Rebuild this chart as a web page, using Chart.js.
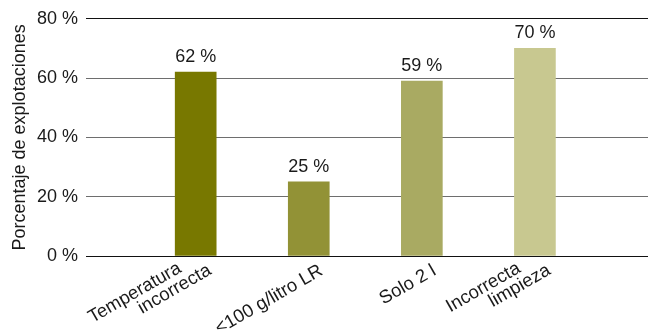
<!DOCTYPE html>
<html>
<head>
<meta charset="utf-8">
<script src="https://cdn.jsdelivr.net/npm/chart.js@4"></script>
<style>
    html, body { margin: 0; padding: 0; background: #fff; }
    #wrap { width: 648px; height: 336px; }
</style>
</head>
<body>
<div id="wrap"><canvas id="chart"></canvas></div>
<script>
// Chart data
var categories = [
    ["Temperatura", "incorrecta"],
    ["<100 g/litro LR"],
    ["Solo 2 l"],
    ["Incorrecta", "limpieza"]
];
var values = [62, 25, 59, 70];
var barColors = ["#787800", "#929236", "#a9aa62", "#c8c890"];
var yTicks = [0, 20, 40, 60, 80];

var FONT = "'Liberation Sans', Arial, sans-serif";
var TEXT = "#1a1a1a";

// Writes "NN %" above every bar
var valueLabels = {
    id: "valueLabels",
    afterDatasetsDraw: function (chart) {
        var ctx = chart.ctx;
        var meta = chart.getDatasetMeta(0);
        ctx.save();
        ctx.font = "18px " + FONT;
        ctx.fillStyle = TEXT;
        ctx.textAlign = "center";
        ctx.textBaseline = "bottom";
        meta.data.forEach(function (bar, i) {
            ctx.fillText(values[i] + " %", bar.x, bar.y - 6);
        });
        ctx.restore();
    }
};

// Slanted category labels; wrapped lines step down and to the right
var categoryLabels = {
    id: "categoryLabels",
    afterDraw: function (chart) {
        var ctx = chart.ctx;
        var xs = chart.scales.x;
        var angle = -30 * Math.PI / 180;
        ctx.save();
        ctx.font = "18.5px " + FONT;
        ctx.fillStyle = TEXT;
        ctx.textAlign = "right";
        ctx.textBaseline = "top";
        categories.forEach(function (lines, i) {
            var tx = xs.getPixelForValue(i + 1);
            var n = lines.length;
            lines.forEach(function (line, j) {
                var back = n - 1 - j;   // lines above the last one
                var dx = (n > 1 ? 9.5 : 8) - back * 30;
                var dy = (n > 1 ? 5 : 5.5) - back * 2;
                ctx.save();
                ctx.translate(tx + dx, xs.top + dy);
                ctx.rotate(angle);
                ctx.fillText(line, 0, 0);
                ctx.restore();
            });
        });
        ctx.restore();
    }
};

var ctx = document.getElementById("chart").getContext("2d");

var myChart = new Chart(ctx, {
    type: "bar",
    data: {
        datasets: [
            {
                data: values.map(function (v, i) { return { x: i + 1, y: v }; }),
                backgroundColor: barColors,
                barThickness: 41,
                borderWidth: 0
            }
        ]
    },
    options: {
        responsive: true,
        maintainAspectRatio: false,
        animation: false,
        layout: { padding: { top: 16, right: 0, left: 0, bottom: 0 } },
        plugins: {
            legend: { display: false },
            tooltip: { enabled: false }
        },
        scales: {
            x: {
                type: "linear",
                offset: false,
                min: 0.03,
                max: 5,
                grid: { display: false },
                border: { display: false },
                ticks: { display: false },
                afterFit: function (scale) { scale.height = 80; }
            },
            y: {
                min: 0,
                max: 80,
                border: { display: false },
                afterFit: function (scale) { scale.width = 86; },
                afterBuildTicks: function (scale) {
                    scale.ticks = yTicks.map(function (v) { return { value: v }; });
                },
                grid: {
                    drawTicks: false,
                    lineWidth: 1,
                    color: function (c) {
                        var v = c.tick ? c.tick.value : 0;
                        return (v === 0 || v === 80) ? "#111111" : "#6e6e6e";
                    }
                },
                ticks: {
                    padding: 8,
                    color: TEXT,
                    font: { family: FONT, size: 18 },
                    callback: function (v) { return v + " %"; }
                },
                title: {
                    display: true,
                    text: "Porcentaje de explotaciones",
                    color: TEXT,
                    font: { family: FONT, size: 18 },
                    padding: { top: 9, bottom: 0 }
                }
            }
        }
    },
    plugins: [valueLabels, categoryLabels]
});
</script>
</body>
</html>
